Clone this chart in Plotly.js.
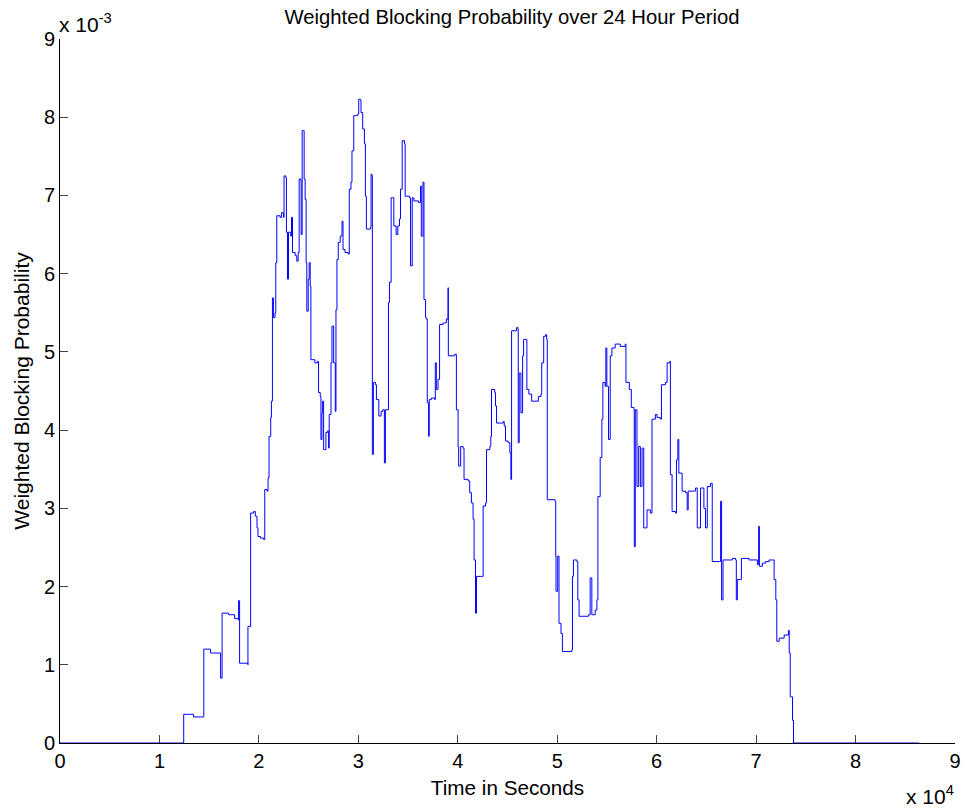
<!DOCTYPE html>
<html><head><meta charset="utf-8">
<script src="https://cdn.plot.ly/plotly-3.0.1.min.js"></script>
<style>html,body{margin:0;padding:0;background:#fff}</style>
</head><body><div id="chart" style="width:966px;height:811px"></div>
<script>
// time in units of 1e4 seconds
const timeE4 = [0,1.244,1.342,1.446,1.514,1.615,1.615,1.630,1.695,1.756,1.796,1.796,1.806,1.890,1.890,1.917,1.948,1.964,1.981,1.991,2.015,2.048,2.059,2.082,2.092,2.102,2.119,2.126,2.136,2.146,2.162,2.170,2.180,2.213,2.227,2.247,2.253,2.270,2.277,2.288,2.298,2.321,2.328,2.338,2.365,2.381,2.395,2.405,2.422,2.425,2.435,2.449,2.455,2.465,2.475,2.482,2.496,2.506,2.516,2.523,2.563,2.590,2.600,2.617,2.624,2.634,2.641,2.651,2.674,2.691,2.701,2.707,2.725,2.735,2.752,2.768,2.775,2.785,2.798,2.818,2.836,2.846,2.866,2.899,2.909,2.926,2.936,2.954,2.994,3.004,3.020,3.027,3.044,3.061,3.071,3.081,3.121,3.128,3.138,3.141,3.151,3.172,3.182,3.206,3.229,3.246,3.262,3.272,3.297,3.303,3.313,3.330,3.347,3.357,3.380,3.397,3.414,3.424,3.441,3.464,3.471,3.515,3.525,3.542,3.559,3.606,3.626,3.633,3.650,3.660,3.676,3.683,3.693,3.707,3.713,3.734,3.767,3.774,3.784,3.801,3.817,3.852,3.885,3.902,3.905,3.969,3.986,4.003,4.009,4.029,4.053,4.063,4.104,4.120,4.137,4.154,4.164,4.178,4.188,4.238,4.255,4.279,4.289,4.322,4.332,4.339,4.372,4.379,4.390,4.440,4.457,4.467,4.480,4.507,4.524,4.534,4.541,4.591,4.605,4.608,4.618,4.628,4.635,4.652,4.662,4.689,4.695,4.715,4.743,4.776,4.810,4.837,4.844,4.864,4.884,4.894,4.900,4.978,4.985,4.988,5.005,5.018,5.038,5.052,5.146,5.153,5.163,5.197,5.207,5.220,5.315,5.331,5.348,5.382,5.399,5.409,5.432,5.449,5.459,5.482,5.489,5.499,5.516,5.533,5.550,5.583,5.634,5.684,5.691,5.725,5.745,5.772,5.775,5.785,5.802,5.819,5.836,5.853,5.870,5.903,5.936,5.953,5.987,6.004,6.037,6.048,6.088,6.105,6.132,6.138,6.155,6.189,6.199,6.213,6.223,6.249,6.256,6.290,6.307,6.317,6.357,6.390,6.408,6.441,6.475,6.491,6.509,6.542,6.559,6.633,6.643,6.653,6.667,6.727,6.761,6.794,6.801,6.811,6.845,6.852,6.929,7.013,7.026,7.033,7.064,7.097,7.131,7.164,7.181,7.198,7.208,7.232,7.282,7.326,7.333,7.343,7.359,7.366,7.376,8.64];
// weighted blocking probability in units of 1e-3
const probE3 = [0,0.367,0.333,1.20,1.15,1.11,0.83,1.66,1.64,1.59,1.57,1.82,1.02,1.00,1.49,2.94,2.96,2.90,2.75,2.64,2.62,2.60,3.24,3.22,3.39,3.92,4.16,4.37,5.69,5.44,5.50,6.14,6.74,6.72,6.78,6.72,7.25,7.23,6.53,5.93,6.53,6.48,6.72,6.27,6.23,6.16,6.27,7.21,7.19,6.50,7.83,7.83,7.21,6.95,6.14,5.52,5.93,6.14,5.84,4.90,4.86,4.88,4.48,4.43,3.88,4.22,4.37,3.75,3.97,3.99,3.77,4.20,4.86,5.33,4.86,4.24,5.54,6.18,6.40,6.48,6.67,6.31,6.27,6.25,7.08,7.17,7.57,8.02,8.04,8.23,8.22,8.06,7.85,7.66,6.99,6.57,6.59,7.27,7.25,3.69,4.61,4.58,4.39,4.18,4.24,4.26,3.58,4.26,4.26,5.63,5.89,6.97,6.97,6.61,6.50,6.61,6.70,7.08,7.70,7.66,6.99,6.97,6.10,6.97,6.93,6.91,7.12,6.48,7.17,5.67,5.44,5.42,4.35,3.92,4.39,4.41,4.39,4.86,4.52,4.65,5.35,5.37,5.42,5.82,4.95,4.97,4.26,3.79,3.54,3.79,3.77,3.37,3.35,3.20,3.07,2.86,2.34,1.66,2.13,2.13,3.03,3.07,3.75,3.79,3.92,4.52,4.48,4.31,4.09,4.09,4.11,4.05,3.86,3.84,3.71,3.37,5.27,5.31,5.29,3.84,4.73,4.73,4.22,4.95,5.16,5.16,4.52,4.46,4.37,4.37,4.43,4.46,4.86,5.20,5.22,5.16,3.11,3.09,2.39,1.94,2.39,1.53,1.40,1.17,1.19,2.13,2.34,2.32,1.83,1.62,1.64,2.11,1.64,1.70,1.83,3.15,3.65,4.14,4.61,4.56,5.05,4.56,3.88,4.95,5.05,5.10,5.07,5.10,4.61,4.52,4.29,4.26,2.51,4.26,3.28,3.79,3.28,3.77,2.75,2.98,2.94,4.14,4.20,4.16,4.14,4.58,4.61,4.86,4.88,3.43,2.96,2.94,3.62,3.88,3.45,3.45,3.22,3.20,2.98,3.22,3.22,3.26,2.75,3.26,3.00,2.75,3.28,3.32,2.32,2.32,3.09,1.83,2.34,2.34,2.36,2.34,1.83,2.09,2.09,2.36,2.34,2.28,2.77,2.26,2.30,2.32,2.34,2.34,2.09,1.83,1.30,1.34,1.38,1.44,1.15,0.59,0.59,0.29,0,0];
const xTickLabels = ['0','1','2','3','4','5','6','7','8','9'];
const yTickLabels = ['0','1','2','3','4','5','6','7','8','9'];

const timeSeconds = timeE4.map(v => v * 1e4);
const blockingProb = probE3.map(v => v * 1e-3);

const FONT = 'Liberation Sans, Arial, sans-serif';
const trace = {
  x: timeSeconds, y: blockingProb, type: 'scatter', mode: 'lines',
  line: {color: 'rgb(0,0,255)', width: 1, shape: 'hv'},
  hoverinfo: 'x+y'
};
const layout = {
  width: 966, height: 811,
  margin: {l: 60, r: 11, t: 39, b: 68},
  paper_bgcolor: '#fff', plot_bgcolor: '#fff',
  font: {family: FONT, size: 20, color: '#000'},
  showlegend: false,
  title: {text: 'Weighted Blocking Probability over 24 Hour Period', font: {family: FONT, size: 20.3, color: '#000'},
          x: 0.530, xanchor: 'center', y: 0.979, yanchor: 'middle', yref: 'container'},
  xaxis: {
    range: [0, 90000], tickvals: xTickLabels.map(t => +t * 1e4), ticktext: xTickLabels,
    ticks: 'inside', ticklen: 8, tickcolor: '#444', tickwidth: 1,
    showline: true, linecolor: '#000', linewidth: 1, mirror: false,
    showgrid: false, zeroline: false, layer: 'below traces',
    tickfont: {family: FONT, size: 20, color: '#000'},
    title: {text: 'Time in Seconds', font: {family: FONT, size: 20.7, color: '#000'}, standoff: 9}
  },
  yaxis: {
    range: [0, 0.009], tickvals: yTickLabels.map(t => +t * 1e-3), ticktext: yTickLabels,
    ticks: 'inside', ticklen: 8, tickcolor: '#444', tickwidth: 1,
    showline: true, linecolor: '#000', linewidth: 1, mirror: false,
    showgrid: false, zeroline: false, layer: 'below traces',
    tickfont: {family: FONT, size: 20, color: '#000'},
    title: {text: 'Weighted Blocking Probability', font: {family: FONT, size: 21, color: '#000'}, standoff: 8}
  },
  annotations: [
    {text: 'x 10<sup>-3</sup>', xref: 'paper', yref: 'paper', x: 0, y: 1, xanchor: 'left', yanchor: 'bottom',
     xshift: -3, yshift: 1, showarrow: false, font: {family: FONT, size: 21, color: '#000'}},
    {text: 'x 10<sup>4</sup>', xref: 'paper', yref: 'paper', x: 1, y: 0, xanchor: 'right', yanchor: 'top',
     xshift: 1, yshift: -37, showarrow: false, font: {family: FONT, size: 21, color: '#000'}}
  ]
};
Plotly.newPlot('chart', [trace], layout, {staticPlot: true, displayModeBar: false});
</script>
</body></html>
